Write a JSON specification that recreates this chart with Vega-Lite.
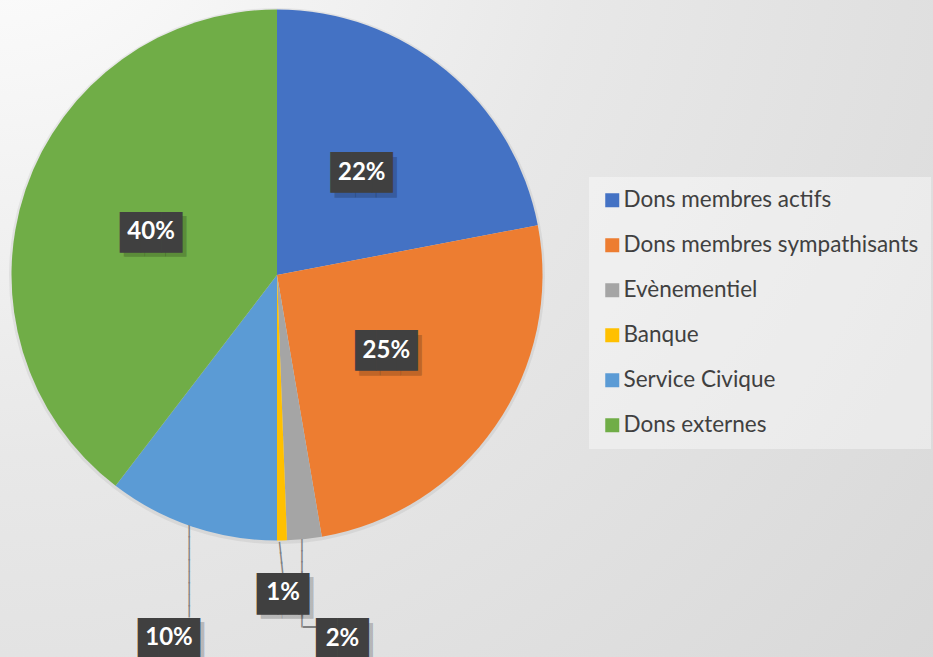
{
  "$schema": "https://vega.github.io/schema/vega-lite/v6.json",
  "width": 933,
  "height": 657,
  "autosize": {"type": "none"},
  "padding": 0,
  "background": "#ffffff",
  "config": {"view": {"stroke": null}},
  "layer": [
    {
      "data": {"values": [{}]},
      "mark": {
        "type": "rect",
        "fill": {
          "gradient": "radial",
          "x1": 0, "y1": 0, "r1": 0,
          "x2": 0, "y2": 0, "r2": 1.414,
          "stops": [
            {"offset": 0, "color": "#ffffff"},
            {"offset": 0.12, "color": "#f9f9f9"},
            {"offset": 0.45, "color": "#e8e8e8"},
            {"offset": 1, "color": "#d6d6d6"}
          ]
        }
      }
    },
    {
      "data": {
        "values": [
          {"category": "Dons membres actifs", "value": 0.22},
          {"category": "Dons membres sympathisants", "value": 0.253},
          {"category": "Evènementiel", "value": 0.021},
          {"category": "Banque", "value": 0.006},
          {"category": "Service Civique", "value": 0.104},
          {"category": "Dons externes", "value": 0.396}
        ]
      },
      "transform": [{"window": [{"op": "row_number", "as": "idx"}]}],
      "encoding": {
        "theta": {"field": "value", "type": "quantitative", "stack": true},
        "order": {"field": "idx", "type": "quantitative"}
      },
      "layer": [
        {
          "mark": {"type": "arc", "radius": 268, "x": 277, "y": 276, "fill": "#000000", "fillOpacity": 0.06},
          "encoding": {"detail": {"field": "category"}}
        },
        {
          "mark": {"type": "arc", "radius": 265.5, "x": 277, "y": 275},
          "encoding": {
            "color": {
              "field": "category",
              "type": "nominal",
              "scale": {
                "domain": ["Dons membres actifs", "Dons membres sympathisants", "Evènementiel", "Banque", "Service Civique", "Dons externes"],
                "range": ["#4472C4", "#ED7D31", "#A5A5A5", "#FFC000", "#5B9BD5", "#70AD47"]
              },
              "legend": {
                "title": null,
                "orient": "none",
                "legendX": 589,
                "legendY": 177,
                "padding": 12,
                "fillColor": "rgba(255,255,255,0.4)",
                "symbolType": "square",
                "symbolSize": 196,
                "symbolStrokeWidth": 0,
                "symbolOpacity": 1,
                "labelFont": "Lato",
                "labelFontSize": 22.5,
                "labelColor": "#404040",
                "labelOffset": 0,
                "labelLimit": 500,
                "rowPadding": 22
              }
            }
          }
        },
        {
          "mark": {"type": "text", "text": ["|", "|", "|", "|", "|", "|", "|", "|"], "font": "DejaVu Sans", "fontWeight": "bold", "fontSize": 12, "lineHeight": 11.5, "fill": "#808080", "radius": 270.6, "thetaOffset": 0.0033, "x": 277, "y": 275, "align": "center", "baseline": "middle"},
          "encoding": {"detail": {"field": "category"}, "opacity": {"condition": {"test": "datum.category === 'Service Civique'", "value": 1}, "value": 0}}
        },
        {
          "mark": {"type": "text", "text": ["|", "|", "|"], "font": "DejaVu Sans", "fontWeight": "bold", "fontSize": 12, "lineHeight": 10, "fill": "#808080", "radius": 272, "thetaOffset": 0.0082, "angle": -6, "x": 277, "y": 275, "align": "center", "baseline": "middle"},
          "encoding": {"detail": {"field": "category"}, "opacity": {"condition": {"test": "datum.category === 'Banque'", "value": 1}, "value": 0}}
        },
        {
          "mark": {"type": "text", "text": ["|", "|", "|", "|", "|", "|", "|", "|"], "font": "DejaVu Sans", "fontWeight": "bold", "fontSize": 12, "lineHeight": 10.8, "fill": "#808080", "radius": 271.2, "thetaOffset": 0.0113, "x": 277, "y": 275, "align": "center", "baseline": "middle"},
          "encoding": {"detail": {"field": "category"}, "opacity": {"condition": {"test": "datum.category === 'Evènementiel'", "value": 1}, "value": 0}}
        },
        {
          "mark": {"type": "text", "text": "—", "font": "DejaVu Sans", "fontWeight": "bold", "fontSize": 15, "fill": "#808080", "radius": 352.5, "thetaOffset": 0.0113, "x": 277, "y": 275, "align": "center", "baseline": "middle"},
          "encoding": {"detail": {"field": "category"}, "opacity": {"condition": {"test": "datum.category === 'Evènementiel'", "value": 1}, "value": 0}}
        },
        {
          "mark": {"type": "text", "text": "███", "font": "DejaVu Sans Mono", "fontSize": 34.4, "fill": "#000000", "fillOpacity": 0.2, "radius": 133, "x": 277, "y": 275, "align": "center", "baseline": "middle", "dx": 4, "dy": 6},
          "encoding": {"detail": {"field": "category"}, "opacity": {"condition": {"test": "datum.value >= 0.15", "value": 1}, "value": 0}}
        },
        {
          "mark": {"type": "text", "text": "███", "font": "DejaVu Sans Mono", "fontSize": 34.4, "fill": "#404040", "radius": 133, "x": 277, "y": 275, "align": "center", "baseline": "middle", "dy": 1.6},
          "encoding": {"detail": {"field": "category"}, "opacity": {"condition": {"test": "datum.value >= 0.15", "value": 1}, "value": 0}}
        },
        {
          "mark": {"type": "text", "font": "Lato", "fontWeight": "bold", "fontSize": 24, "fill": "#ffffff", "radius": 133, "x": 277, "y": 275, "align": "center", "baseline": "middle"},
          "encoding": {"detail": {"field": "category"}, "text": {"field": "value", "type": "quantitative", "format": ".0%"}, "opacity": {"condition": {"test": "datum.value >= 0.15", "value": 1}, "value": 0}}
        },
        {
          "mark": {"type": "text", "text": "███", "font": "DejaVu Sans Mono", "fontSize": 34.4, "fill": "#000000", "fillOpacity": 0.2, "radius": 378.7, "thetaOffset": -0.0375, "x": 277, "y": 275, "align": "center", "baseline": "middle", "dx": 4, "dy": 6},
          "encoding": {"detail": {"field": "category"}, "opacity": {"condition": {"test": "datum.category === 'Service Civique'", "value": 1}, "value": 0}}
        },
        {
          "mark": {"type": "text", "text": "███", "font": "DejaVu Sans Mono", "fontSize": 34.4, "fill": "#404040", "radius": 378.7, "thetaOffset": -0.0375, "x": 277, "y": 275, "align": "center", "baseline": "middle", "dy": 1.6},
          "encoding": {"detail": {"field": "category"}, "opacity": {"condition": {"test": "datum.category === 'Service Civique'", "value": 1}, "value": 0}}
        },
        {
          "mark": {"type": "text", "font": "Lato", "fontWeight": "bold", "fontSize": 24, "fill": "#ffffff", "radius": 378.7, "thetaOffset": -0.0375, "x": 277, "y": 275, "align": "center", "baseline": "middle"},
          "encoding": {"detail": {"field": "category"}, "text": {"field": "value", "type": "quantitative", "format": ".0%"}, "opacity": {"condition": {"test": "datum.category === 'Service Civique'", "value": 1}, "value": 0}}
        },
        {
          "mark": {"type": "text", "text": "██▌", "font": "DejaVu Sans Mono", "fontSize": 35, "fill": "#000000", "fillOpacity": 0.2, "radius": 318.5, "x": 277, "y": 275, "align": "center", "baseline": "middle", "dx": 9.3, "dy": 6},
          "encoding": {"detail": {"field": "category"}, "opacity": {"condition": {"test": "datum.category === 'Banque'", "value": 1}, "value": 0}}
        },
        {
          "mark": {"type": "text", "text": "██▌", "font": "DejaVu Sans Mono", "fontSize": 35, "fill": "#404040", "radius": 318.5, "x": 277, "y": 275, "align": "center", "baseline": "middle", "dx": 5.3, "dy": 1.6},
          "encoding": {"detail": {"field": "category"}, "opacity": {"condition": {"test": "datum.category === 'Banque'", "value": 1}, "value": 0}}
        },
        {
          "mark": {"type": "text", "font": "Lato", "fontWeight": "bold", "fontSize": 24, "fill": "#ffffff", "radius": 318.5, "x": 277, "y": 275, "align": "center", "baseline": "middle"},
          "encoding": {"detail": {"field": "category"}, "text": {"field": "value", "type": "quantitative", "format": ".0%"}, "opacity": {"condition": {"test": "datum.category === 'Banque'", "value": 1}, "value": 0}}
        },
        {
          "mark": {"type": "text", "text": "██▌", "font": "DejaVu Sans Mono", "fontSize": 35, "fill": "#000000", "fillOpacity": 0.2, "radius": 369.4, "thetaOffset": -0.0744, "x": 277, "y": 275, "align": "center", "baseline": "middle", "dx": 9.3, "dy": 6},
          "encoding": {"detail": {"field": "category"}, "opacity": {"condition": {"test": "datum.category === 'Evènementiel'", "value": 1}, "value": 0}}
        },
        {
          "mark": {"type": "text", "text": "██▌", "font": "DejaVu Sans Mono", "fontSize": 35, "fill": "#404040", "radius": 369.4, "thetaOffset": -0.0744, "x": 277, "y": 275, "align": "center", "baseline": "middle", "dx": 5.3, "dy": 1.6},
          "encoding": {"detail": {"field": "category"}, "opacity": {"condition": {"test": "datum.category === 'Evènementiel'", "value": 1}, "value": 0}}
        },
        {
          "mark": {"type": "text", "font": "Lato", "fontWeight": "bold", "fontSize": 24, "fill": "#ffffff", "radius": 369.4, "thetaOffset": -0.0744, "x": 277, "y": 275, "align": "center", "baseline": "middle"},
          "encoding": {"detail": {"field": "category"}, "text": {"field": "value", "type": "quantitative", "format": ".0%"}, "opacity": {"condition": {"test": "datum.category === 'Evènementiel'", "value": 1}, "value": 0}}
        }
      ]
    }
  ]
}
